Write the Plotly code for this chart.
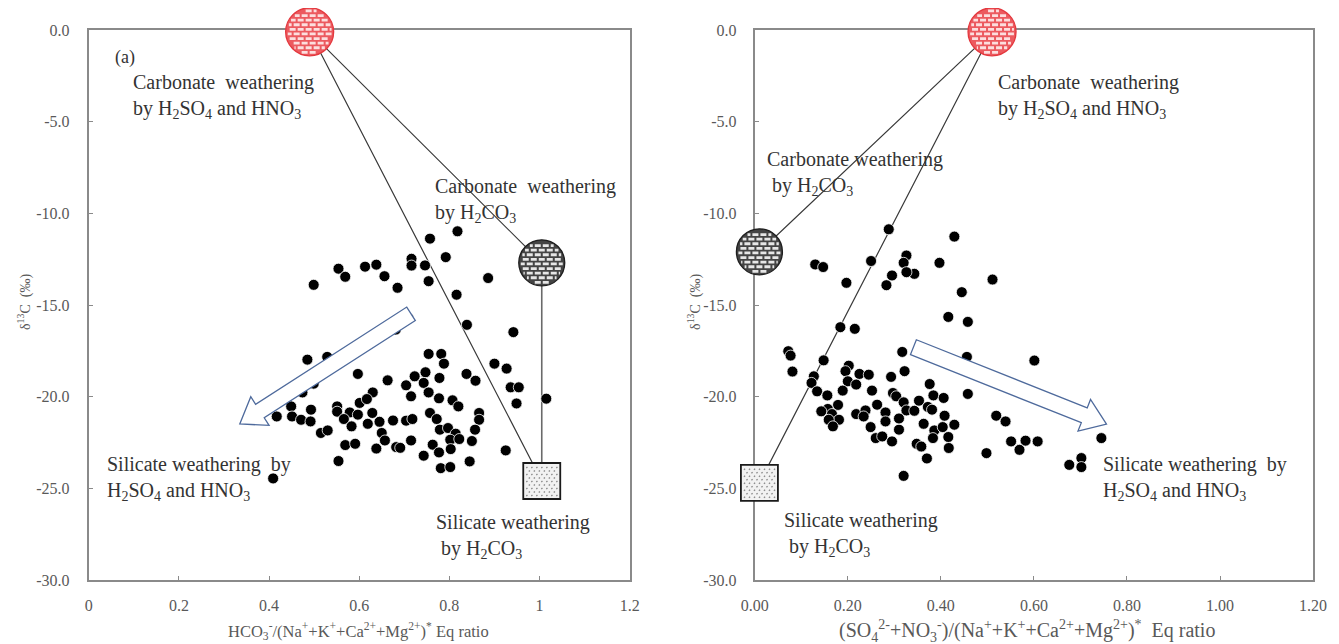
import math
import plotly.graph_objects as go

# ---------------- data ----------------
left_x = [0.554, 0.569, 0.613, 0.638, 0.656, 0.685, 0.499, 0.681, 0.485, 0.529, 0.597, 0.663, 0.499, 0.474,
          0.630, 0.601, 0.617, 0.449, 0.493, 0.551, 0.551, 0.579, 0.597, 0.629, 0.417, 0.451, 0.471, 0.492,
          0.566, 0.583, 0.619, 0.645, 0.675, 0.515, 0.530, 0.650, 0.657, 0.569, 0.591, 0.638, 0.682, 0.554,
          0.409,
          0.818, 0.757, 0.716, 0.716, 0.792, 0.746, 0.754, 0.886, 0.816, 0.839, 0.942, 0.709, 0.754, 0.782,
          0.788, 0.900, 0.927, 0.838, 0.858, 0.747, 0.778, 0.723, 0.936, 0.954, 0.949, 1.015, 0.704, 0.743,
          0.715, 0.754, 0.777, 0.807, 0.820, 0.866, 0.866, 0.704, 0.718, 0.757, 0.772, 0.779, 0.797, 0.814,
          0.857, 0.802, 0.822, 0.850, 0.715, 0.691, 0.763, 0.777, 0.743, 0.803, 0.845, 0.925, 0.781, 0.802]
left_y = [-13.02, -13.46, -12.91, -12.80, -13.43, -14.06, -13.90, -16.34, -17.98, -17.83, -18.76, -19.11, -19.29, -19.77,
          -19.77, -20.34, -20.13, -20.53, -20.71, -20.53, -20.82, -20.86, -20.98, -20.89, -21.08, -21.08, -21.26, -21.35,
          -21.22, -21.62, -21.48, -21.37, -21.30, -21.98, -21.84, -21.98, -22.39, -22.64, -22.57, -22.83, -22.75, -23.51,
          -24.46,
          -10.98, -11.38, -12.48, -12.85, -12.39, -12.84, -13.70, -13.53, -14.44, -16.08, -16.48, -15.72, -17.67, -17.67,
          -18.20, -18.20, -18.47, -18.76, -19.13, -18.67, -18.98, -18.89, -19.49, -19.49, -20.37, -20.11, -19.38, -19.25,
          -19.98, -19.77, -20.09, -20.20, -20.53, -20.89, -21.26, -21.31, -21.22, -20.89, -21.22, -21.80, -21.71, -22.02,
          -21.80, -22.35, -22.31, -22.42, -22.39, -22.79, -22.62, -23.04, -23.22, -22.86, -23.53, -22.93, -23.90, -23.84]

right_x = [0.288, 0.250, 0.130, 0.147, 0.197, 0.326, 0.320, 0.343, 0.326, 0.295, 0.283, 0.397, 0.184, 0.215,
           0.072, 0.077, 0.081, 0.148, 0.317, 0.322, 0.127, 0.122, 0.202, 0.195, 0.225, 0.245, 0.200, 0.218,
           0.134, 0.156, 0.189, 0.252, 0.293, 0.297, 0.304, 0.376, 0.384, 0.179, 0.157, 0.143, 0.166, 0.181,
           0.159, 0.168, 0.218, 0.238, 0.234, 0.263, 0.281, 0.281, 0.249, 0.260, 0.274, 0.295, 0.310, 0.310,
           0.320, 0.326, 0.343, 0.353, 0.372, 0.381, 0.363, 0.386, 0.383, 0.348, 0.358, 0.370, 0.320,
           0.429, 0.511, 0.445, 0.416, 0.458, 0.456, 0.601, 0.406, 0.458, 0.408, 0.404, 0.429, 0.416, 0.417,
           0.519, 0.539, 0.551, 0.582, 0.569, 0.608, 0.498, 0.745, 0.676, 0.702, 0.702]
right_y = [-10.87, -12.60, -12.79, -12.93, -13.79, -12.30, -12.70, -13.30, -13.21, -13.39, -13.92, -12.70, -16.21, -16.30,
           -17.52, -17.76, -18.63, -18.02, -17.56, -18.61, -18.89, -19.25, -18.31, -18.61, -18.76, -18.80, -19.16, -19.34,
           -19.71, -19.93, -19.67, -19.67, -18.92, -19.80, -19.98, -19.31, -19.93, -20.45, -20.67, -20.80, -20.95, -21.26,
           -21.26, -21.62, -20.95, -20.75, -21.08, -20.44, -20.86, -21.35, -21.66, -22.26, -22.17, -22.44, -21.80, -21.19,
           -20.31, -20.75, -20.77, -20.22, -20.56, -20.71, -21.48, -21.84, -22.26, -22.57, -22.72, -23.37, -24.32,
           -11.27, -13.61, -14.30, -15.65, -15.92, -17.83, -18.03, -20.07, -19.85, -21.04, -21.66, -21.53, -22.20, -22.80,
           -21.04, -21.35, -22.44, -22.40, -22.90, -22.44, -23.08, -22.26, -23.72, -23.35, -23.84]

# end-members (x, y)
left_carb_acid = (0.49, -0.1)
left_carb_h2co3 = (1.005, -12.7)
left_sil_h2co3 = (1.005, -24.6)
right_carb_acid = (0.51, -0.1)
right_carb_h2co3 = (0.01, -12.1)
right_sil_h2co3 = (0.01, -24.7)

# trend arrows (tail, tip)
left_arrow = ((0.715, -15.48), (0.335, -21.49))
right_arrow = ((0.341, -17.3), (0.756, -21.5))

x_range_left = [0, 1.2]
x_range_right = [0, 1.2]
y_range = [-30, 0]
x_ticks = [0, 0.2, 0.4, 0.6, 0.8, 1.0, 1.2]
x_ticktext_left = ["0", "0.2", "0.4", "0.6", "0.8", "1", "1.2"]
x_ticktext_right = ["0.00", "0.20", "0.40", "0.60", "0.80", "1.00", "1.20"]
y_ticks = [0, -5, -10, -15, -20, -25, -30]
y_ticktext = ["0.0", "-5.0", "-10.0", "-15.0", "-20.0", "-25.0", "-30.0"]

# ---------------- layout geometry ----------------
W, H = 1339, 644
OFF_Y = 8            # page body margin
X0, PW = 20, 1315    # observed page x of the plotting area's left edge, and its width
TOP, BOTTOM = 30, 580
M_T = TOP - OFF_Y
M_B = H - (BOTTOM - OFF_Y)
dom_left = [(87 - X0) / PW, (629.5 - X0) / PW]
dom_right = [(755 - X0) / PW, (1315 - X0) / PW]
SERIF = "Liberation Serif, Times New Roman, serif"
TXT = "#333333"
TICK = "#595959"
AXC = "#8a8a8a"

plot_h = H - M_T - M_B


def paper_xy(px, py):
    return (px - X0) / PW, (H - M_B - (py - OFF_Y)) / plot_h


def px_per_unit(dom, xr):
    return (dom[1] - dom[0]) * PW / (xr[1] - xr[0])


def frac(v, r):
    return (v - r[0]) / (r[1] - r[0])


fig = go.Figure()

# mixing lines
fig.add_trace(go.Scatter(x=[left_carb_h2co3[0], left_carb_acid[0], left_sil_h2co3[0]],
                         y=[left_carb_h2co3[1], left_carb_acid[1], left_sil_h2co3[1]], mode="lines",
                         line=dict(color="#3a3a3a", width=1.2), xaxis="x", yaxis="y",
                         hoverinfo="skip", showlegend=False))
fig.add_trace(go.Scatter(x=[left_carb_h2co3[0], left_sil_h2co3[0]], y=[left_carb_h2co3[1], left_sil_h2co3[1]],
                         mode="lines", line=dict(color="#6a6a6a", width=1.6), xaxis="x", yaxis="y",
                         hoverinfo="skip", showlegend=False))
fig.add_trace(go.Scatter(x=[right_carb_h2co3[0], right_carb_acid[0], right_sil_h2co3[0]],
                         y=[right_carb_h2co3[1], right_carb_acid[1], right_sil_h2co3[1]], mode="lines",
                         line=dict(color="#3a3a3a", width=1.2), xaxis="x2", yaxis="y2",
                         hoverinfo="skip", showlegend=False))

# samples
fig.add_trace(go.Scatter(x=left_x, y=left_y, mode="markers", xaxis="x", yaxis="y",
                         marker=dict(size=11, color="black", line=dict(color="white", width=0.8)),
                         showlegend=False))
fig.add_trace(go.Scatter(x=right_x, y=right_y, mode="markers", xaxis="x2", yaxis="y2",
                         marker=dict(size=11, color="black", line=dict(color="white", width=0.8)),
                         showlegend=False))

shapes = []


def brick_circle(xa, ya, xr, pt, r, base, brick, edge):
    common = dict(xref=xa + " domain", yref=ya + " domain", xsizemode="pixel", ysizemode="pixel",
                  xanchor=frac(pt[0], xr), yanchor=frac(pt[1], y_range), layer="above")
    shapes.append(dict(type="circle", x0=-r, x1=r, y0=-r, y1=r, fillcolor=base,
                       line=dict(color=edge, width=1.3), **common))
    segs = []
    row = 4.6
    blen, gap = 6.0, 2.0
    rr = r - 2.0
    k = 0
    y = -rr + 1.5
    while y < rr:
        half = math.sqrt(max(rr * rr - y * y, 0))
        off = 0 if k % 2 == 0 else (blen + gap) / 2
        x = -r - off
        while x < r:
            x0, x1 = max(x, -half), min(x + blen, half)
            if x1 - x0 > 1.0:
                segs.append(f"M{x0:.1f},{y:.1f} L{x1:.1f},{y:.1f}")
            x += blen + gap
        y += row
        k += 1
    shapes.append(dict(type="path", path=" ".join(segs), line=dict(color=brick, width=2.8), **common))


def dotted_square(xa, ya, xr, pt, hw, hh):
    common = dict(xref=xa + " domain", yref=ya + " domain", xsizemode="pixel", ysizemode="pixel",
                  xanchor=frac(pt[0], xr), yanchor=frac(pt[1], y_range), layer="above")
    shapes.append(dict(type="rect", x0=-hw, x1=hw, y0=-hh, y1=hh, fillcolor="#f2f2f2",
                       line=dict(color="#1a1a1a", width=1.8), **common))
    segs = []
    k = 0
    y = -hh + 3
    while y < hh - 2:
        x = -hw + 3 + (0 if k % 2 == 0 else 2.5)
        while x < hw - 2:
            segs.append(f"M{x:.1f},{y:.1f} L{x + 1.2:.1f},{y + 1.0:.1f}")
            x += 5
        y += 3.5
        k += 1
    shapes.append(dict(type="path", path=" ".join(segs), line=dict(color="#8c8c8c", width=1.4), **common))


def hollow_arrow(xa, ya, dom, xr, arrow, sw=8, hw=17, hl=24):
    (tx, ty), (px_, py_) = arrow
    kx = px_per_unit(dom, xr)
    ky = plot_h / (y_range[1] - y_range[0])
    TX, TY, PX, PY = tx * kx, ty * ky, px_ * kx, py_ * ky
    L = math.hypot(PX - TX, PY - TY)
    ux, uy = (PX - TX) / L, (PY - TY) / L
    nx, ny = -uy, ux
    bx, by = PX - ux * hl, PY - uy * hl
    pts = [(TX + nx * sw, TY + ny * sw), (bx + nx * sw, by + ny * sw), (bx + nx * hw, by + ny * hw),
           (PX, PY), (bx - nx * hw, by - ny * hw), (bx - nx * sw, by - ny * sw), (TX - nx * sw, TY - ny * sw)]
    path = "M" + " L".join(f"{p[0] / kx:.5f},{p[1] / ky:.4f}" for p in pts) + " Z"
    shapes.append(dict(type="path", path=path, xref=xa, yref=ya, fillcolor="white",
                       line=dict(color="#4e6a9c", width=1.3), layer="above"))


hollow_arrow("x", "y", dom_left, x_range_left, left_arrow)
hollow_arrow("x2", "y2", dom_right, x_range_right, right_arrow)

RED_BASE, RED_BRICK, RED_EDGE = "#ec5a5f", "#fcdede", "#e4383e"
GRY_BASE, GRY_BRICK, GRY_EDGE = "#444444", "#e6e6e6", "#1e1e1e"
brick_circle("x", "y", x_range_left, left_carb_acid, 24, RED_BASE, RED_BRICK, RED_EDGE)
brick_circle("x", "y", x_range_left, left_carb_h2co3, 23, GRY_BASE, GRY_BRICK, GRY_EDGE)
dotted_square("x", "y", x_range_left, left_sil_h2co3, 18.5, 18)
brick_circle("x2", "y2", x_range_right, right_carb_acid, 24, RED_BASE, RED_BRICK, RED_EDGE)
brick_circle("x2", "y2", x_range_right, right_carb_h2co3, 23, GRY_BASE, GRY_BRICK, GRY_EDGE)
dotted_square("x2", "y2", x_range_right, right_sil_h2co3, 18.5, 18)

# ---------------- annotations ----------------
ann = []
FS = 20


def label(xa, ya, x, y, text, size=FS):
    ann.append(dict(x=x, y=y, xref=xa, yref=ya, text=text, showarrow=False, xanchor="left",
                    yanchor="middle", align="left", font=dict(family=SERIF, size=size, color=TXT)))


acid = "H<sub>2</sub>SO<sub>4</sub> and HNO<sub>3</sub>"
h2co3 = "H<sub>2</sub>CO<sub>3</sub>"
label("x", "y", 0.053, -1.5, "(a)", 18)
label("x", "y", 0.093, -3.6, "Carbonate  weathering<br>by " + acid)
label("x", "y", 0.763, -9.3, "Carbonate  weathering<br>by " + h2co3)
label("x", "y", 0.035, -24.45, "Silicate weathering  by<br>" + acid)
label("x", "y", 0.765, -27.6, "Silicate weathering<br> by " + h2co3)
label("x2", "y2", 0.518, -3.6, "Carbonate  weathering<br>by " + acid)
label("x2", "y2", 0.021, -7.8, "Carbonate weathering<br> by " + h2co3)
label("x2", "y2", 0.745, -24.45, "Silicate weathering  by<br>" + acid)
label("x2", "y2", 0.058, -27.5, "Silicate weathering<br> by " + h2co3)

ylab = "δ<sup>13</sup>C  (‰)"
for px in (22, 694):
    xp, yp = paper_xy(px, 302)
    ann.append(dict(x=xp, y=yp, xref="paper", yref="paper", text=ylab, textangle=-90,
                    xanchor="center", yanchor="middle",
                    showarrow=False, font=dict(family=SERIF, size=14, color=TICK)))

xp, yp = paper_xy(358, 631)
ann.append(dict(x=xp, y=yp, xref="paper", yref="paper", xanchor="center", yanchor="middle",
                text="HCO<sub>3</sub><sup>-</sup>/(Na<sup>+</sup>+K<sup>+</sup>+Ca<sup>2+</sup>+Mg<sup>2+</sup>)<sup>*</sup> Eq ratio",
                showarrow=False, font=dict(family=SERIF, size=16.5, color=TICK)))
xp, yp = paper_xy(1028, 631)
ann.append(dict(x=xp, y=yp, xref="paper", yref="paper", xanchor="center", yanchor="middle",
                text="(SO<sub>4</sub><sup>2-</sup>+NO<sub>3</sub><sup>-</sup>)/(Na<sup>+</sup>+K<sup>+</sup>+Ca<sup>2+</sup>+Mg<sup>2+</sup>)<sup>*</sup>  Eq ratio",
                showarrow=False, font=dict(family=SERIF, size=20, color=TICK)))

axis_common = dict(showgrid=False, zeroline=False, showline=True, mirror=True, linecolor=AXC, linewidth=2,
                   ticks="inside", ticklen=4, tickcolor=AXC, tickwidth=1)
xfont = dict(family=SERIF, size=16, color=TICK)
yfont = dict(family=SERIF, size=16, color=TICK)

fig.update_layout(
    width=W, height=H, margin=dict(l=0, r=0, t=M_T, b=M_B),
    paper_bgcolor="white", plot_bgcolor="white", showlegend=False,
    xaxis=dict(domain=dom_left, range=x_range_left, tickvals=x_ticks, ticktext=x_ticktext_left, anchor="y",
               ticklabelstandoff=10, tickfont=xfont, **axis_common),
    yaxis=dict(range=y_range, tickvals=y_ticks, ticktext=y_ticktext, anchor="x",
               ticklabelstandoff=14, tickfont=yfont, **axis_common),
    xaxis2=dict(domain=dom_right, range=x_range_right, tickvals=x_ticks, ticktext=x_ticktext_right, anchor="y2",
                ticklabelstandoff=10, tickfont=xfont, **axis_common),
    yaxis2=dict(range=y_range, tickvals=y_ticks, ticktext=y_ticktext, anchor="x2",
                ticklabelstandoff=13, tickfont=yfont, **axis_common),
    shapes=shapes, annotations=ann,
)

fig.write_html("out.html")
